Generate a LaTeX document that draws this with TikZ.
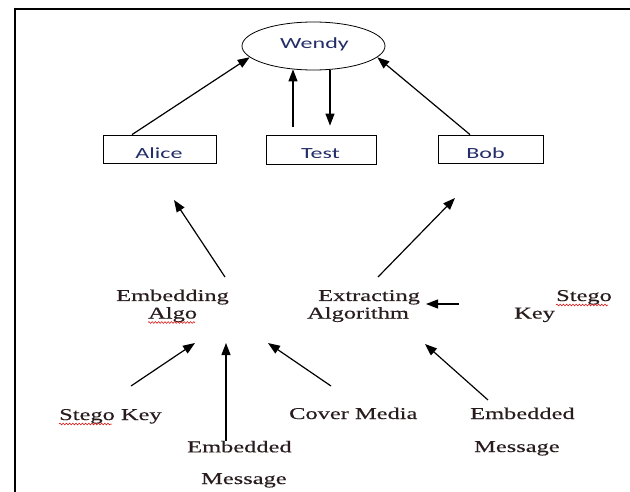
\documentclass[tikz,border=0pt]{standalone}
\usepackage{fontspec}
\usetikzlibrary{arrows.meta,calc,decorations.pathmorphing,shapes.geometric}
\newfontfamily\sansw[FakeStretch=1.55]{Carlito}
\newfontfamily\serifw[FakeStretch=1.48,FakeBold=0.35]{Liberation Serif}
\definecolor{sanscol}{RGB}{35,45,105}
\definecolor{sercol}{RGB}{40,28,30}
\begin{document}
\begin{tikzpicture}[x=1pt,y=-1pt,
  lbl/.style={font=\serifw\fontsize{16.5}{19}\selectfont, text=sercol, inner sep=0pt, anchor=base west},
  slbl/.style={font=\sansw\fontsize{15.5}{19}\selectfont, text=sanscol, inner sep=0pt, anchor=base},
  boxn/.style={draw, line width=0.8pt, inner sep=0pt},
  arr/.style={line width=1.2pt, -{Triangle[length=12pt,width=9pt]}},
  squig/.style={red!85!black, line width=0.5pt, decorate, decoration={snake, amplitude=0.9pt, segment length=3.2pt}}]
\useasboundingbox (0,0) rectangle (630,492);
\fill[white] (0,0) rectangle (630,492);
% frame
\draw[line width=2.5pt] (14,9) -- (630,9);
\draw[line width=2.3pt] (15,7.75) -- (15,492);
% top part
\node[ellipse, draw, line width=0.8pt, minimum width=143pt, minimum height=48pt, inner sep=0pt] (wendy) at (313.5,46) {};
\node[slbl] (wendyt) at (314.5,48.5) {Wendy};
\node[boxn, minimum width=113pt, minimum height=28pt] (alice) at (159.5,149) {};
\node[boxn, minimum width=110pt, minimum height=29pt] (test) at (321,149.5) {};
\node[boxn, minimum width=105pt, minimum height=28pt] (bob) at (490.5,149) {};
\begin{scope}
\clip (90,130) rectangle (560,157.3);
\node[slbl] (alicet) at (159,159) {Alice};
\node[slbl] (testt) at (320.5,159) {Test};
\node[slbl] (bobt) at (485.5,159) {Bob};
\end{scope}
\draw[arr] ([xshift=-27.5pt]alice.north) -- (wendy.190);
\draw[arr] ([xshift=-20.5pt]bob.north) -- (wendy.350);
\draw[arr] ($(test.north)+(-28,-8)$) -- ($(wendy.south)+(-20.5,-1)$);
\draw[arr] ($(wendy.south)+(16.5,0)$) -- ($(test.north)+(9,-9)$);
% middle
\node[lbl] (emb1) at (116,301) {Embedding};
\node[lbl] (emb2) at (148,318.5) {Algo};
\node[lbl] (ext1) at (318,301) {Extracting};
\node[lbl] (ext2) at (307,318.5) {Algorithm};
\node[lbl] (sk1) at (556,301) {Stego};
\node[lbl] (sk2) at (514,318.5) {Key};
\coordinate (embtip) at (174,200);
\coordinate (exttip) at (455,198);
\draw[arr] ($(emb1.base west)+(109,-24)$) -- (embtip);
\draw[arr] ($(ext1.base west)+(60,-24)$) -- (exttip);
\draw[arr] ($(sk2.base west)+(-55,-14.5)$) -- ($(ext1.base west)+(108,3)$);
% bottom
\node[lbl] (sk) at (59,420) {Stego Key};
\node[lbl] (em1) at (187,452.3) {Embedded};
\node[lbl] (em2) at (201,484) {Message};
\node[lbl] (cov) at (289,419) {Cover Media};
\node[lbl] (em3) at (470,419) {Embedded};
\node[lbl] (em4) at (474,452) {Message};
\draw[arr] ($(sk.base west)+(72,-34)$) -- ($(emb2.base west)+(47,24.5)$);
\draw[arr] ($(em1.base west)+(39,-11.3)$) -- ($(emb2.base west)+(78,24.5)$);
\draw[arr] ($(cov.base west)+(42,-33)$) -- ($(emb2.base west)+(120,24.5)$);
\draw[arr] ($(em3.base west)+(18,-19)$) -- ($(ext2.base west)+(118,25.5)$);
% spell-check underlines
\draw[squig] ($(emb2.base west)+(0,4)$) -- ++(47,0);
\draw[squig] ($(sk1.base west)+(0,4)$) -- ++(52,0);
\draw[squig] ($(sk.base west)+(0,4)$) -- ++(53,0);
\end{tikzpicture}
\end{document}
